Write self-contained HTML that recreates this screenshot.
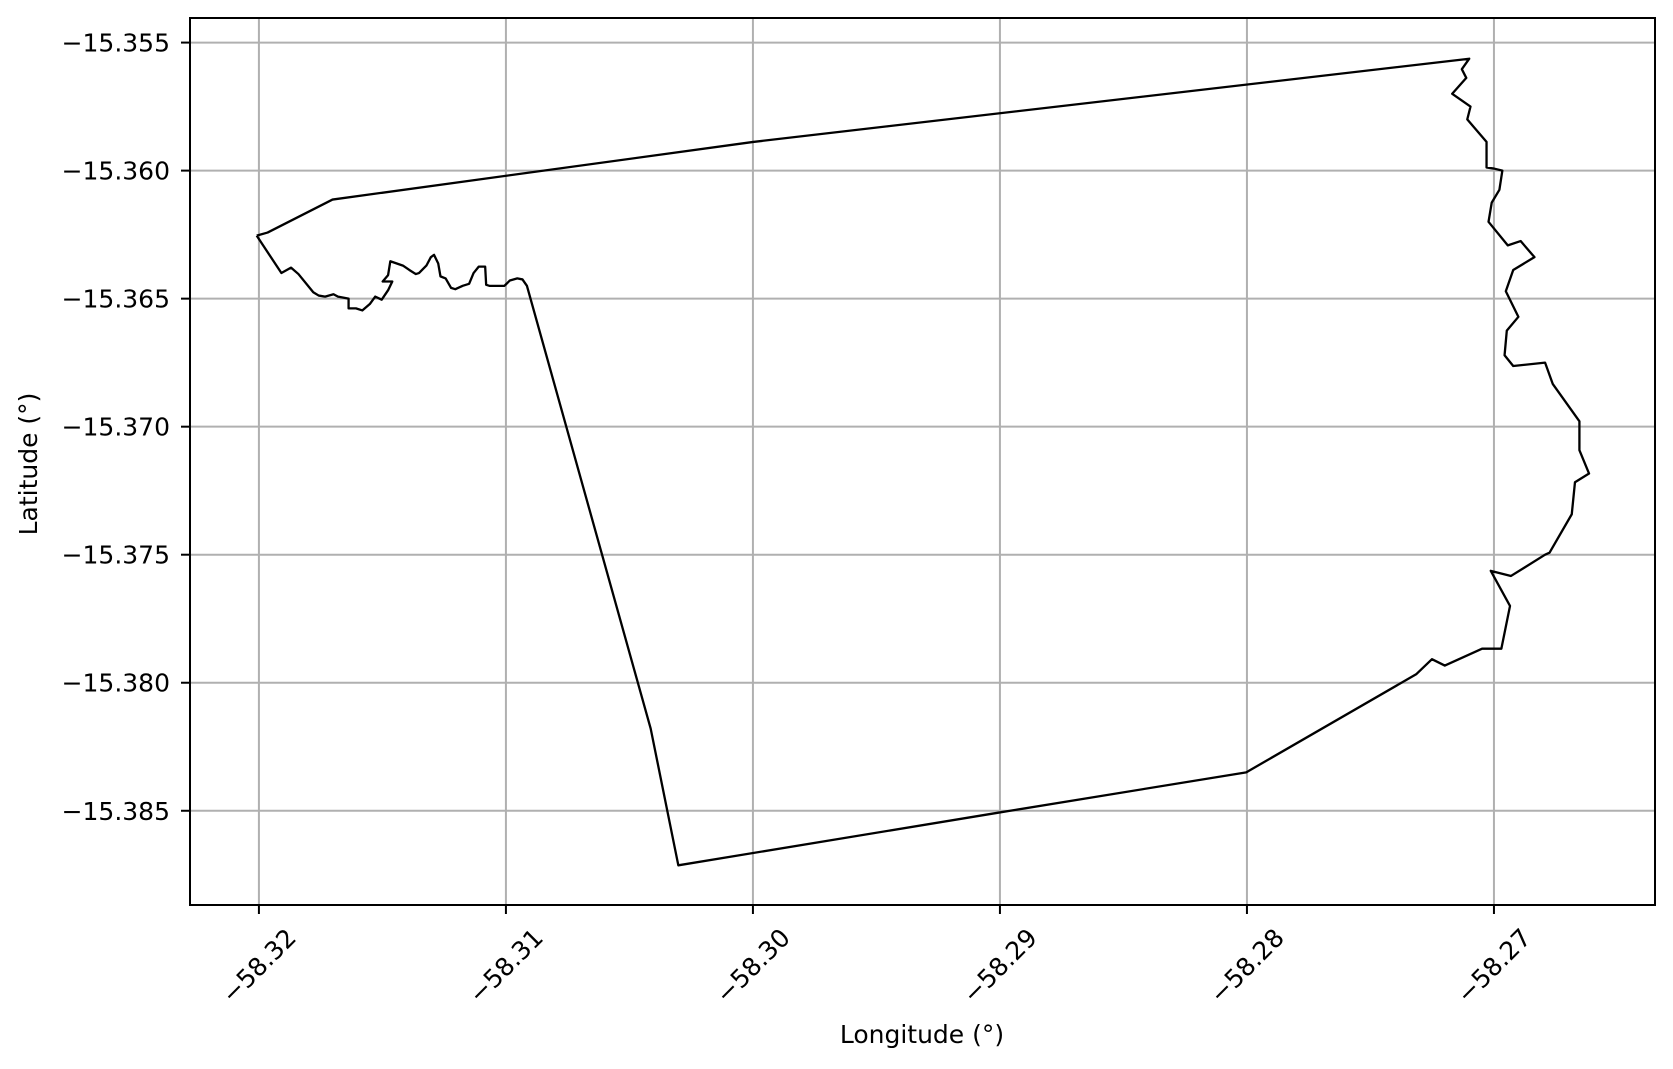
<!DOCTYPE html>
<html><head><meta charset="utf-8">
<style>
html,body{margin:0;padding:0;background:#fff;}
svg{display:block;font-family:"DejaVu Sans","Liberation Sans",sans-serif;}
</style></head>
<body>
<svg id="chart" width="1673" height="1069" viewBox="0 0 1673 1069" xmlns="http://www.w3.org/2000/svg"></svg>
<script>
const lonTicks = [-58.32, -58.31, -58.30, -58.29, -58.28, -58.27];
const lonTickLabels = ["\u221258.32","\u221258.31","\u221258.30","\u221258.29","\u221258.28","\u221258.27"];
const latTicks = [-15.355, -15.360, -15.365, -15.370, -15.375, -15.380, -15.385];
const latTickLabels = ["\u221215.355","\u221215.360","\u221215.365","\u221215.370","\u221215.375","\u221215.380","\u221215.385"];
const boundaryLon = [-58.32009,-58.31965,-58.31702,-58.29999,-58.27100,-58.27130,-58.27112,-58.27169,-58.27095,-58.27108,-58.27030,-58.27030,-58.27000,-58.26966,-58.26978,-58.27009,-58.27022,-58.26944,-58.26892,-58.26836,-58.26922,-58.26952,-58.26901,-58.26948,-58.26957,-58.26922,-58.26793,-58.26762,-58.26654,-58.26654,-58.26615,-58.26672,-58.26685,-58.26775,-58.26793,-58.26931,-58.27013,-58.26935,-58.26970,-58.27048,-58.27199,-58.27251,-58.27315,-58.28003,-58.29010,-58.30302,-58.30414,-58.30915,-58.30933,-58.30954,-58.30984,-58.31006,-58.31067,-58.31080,-58.31084,-58.31110,-58.31131,-58.31149,-58.31175,-58.31205,-58.31222,-58.31244,-58.31265,-58.31274,-58.31291,-58.31304,-58.31322,-58.31352,-58.31365,-58.31391,-58.31417,-58.31468,-58.31477,-58.31499,-58.31460,-58.31477,-58.31503,-58.31529,-58.31551,-58.31581,-58.31607,-58.31637,-58.31637,-58.31680,-58.31698,-58.31732,-58.31758,-58.31780,-58.31840,-58.31870,-58.31909,-58.32009];
const boundaryLat = [-15.36254,-15.36242,-15.36113,-15.35888,-15.35563,-15.35604,-15.35638,-15.35700,-15.35750,-15.35800,-15.35888,-15.35988,-15.35992,-15.36000,-15.36075,-15.36125,-15.36200,-15.36292,-15.36275,-15.36338,-15.36388,-15.36471,-15.36571,-15.36625,-15.36721,-15.36763,-15.36750,-15.36833,-15.36979,-15.37092,-15.37183,-15.37217,-15.37342,-15.37492,-15.37500,-15.37583,-15.37563,-15.37700,-15.37867,-15.37867,-15.37933,-15.37908,-15.37967,-15.38350,-15.38508,-15.38713,-15.38179,-15.36450,-15.36425,-15.36421,-15.36429,-15.36450,-15.36450,-15.36446,-15.36375,-15.36375,-15.36400,-15.36442,-15.36450,-15.36463,-15.36458,-15.36421,-15.36413,-15.36363,-15.36329,-15.36338,-15.36371,-15.36400,-15.36404,-15.36388,-15.36371,-15.36354,-15.36408,-15.36433,-15.36433,-15.36467,-15.36504,-15.36492,-15.36521,-15.36546,-15.36538,-15.36538,-15.36500,-15.36492,-15.36483,-15.36492,-15.36488,-15.36475,-15.36404,-15.36379,-15.36400,-15.36254];

const NS = "http://www.w3.org/2000/svg";
const svg = document.getElementById('chart');
const L = 190, R = 1655, T = 18, B = 905;
const xMin = -58.32279, xMax = -58.26348, yMax = -15.35404, yMin = -15.38868;
function xs(v){ return L + (v - xMin) / (xMax - xMin) * (R - L); }
function ys(v){ return T + (yMax - v) / (yMax - yMin) * (B - T); }
function mk(tag, attrs){ const e = document.createElementNS(NS, tag); for (const k in attrs) e.setAttribute(k, attrs[k]); svg.appendChild(e); return e; }

// grid
lonTicks.forEach((v, i) => {
  const g = mk('line', {x1: xs(v), x2: xs(v), y1: T, y2: B, stroke: '#b0b0b0', 'stroke-width': 2});
  
  
});
latTicks.forEach((v, i) => {
  const g = mk('line', {x1: L, x2: R, y1: ys(v), y2: ys(v), stroke: '#b0b0b0', 'stroke-width': 2});
  
  
});

// boundary polygon
let d = '';
boundaryLon.forEach((v, i) => { d += (i ? 'L' : 'M') + xs(v).toFixed(2) + ',' + ys(boundaryLat[i]).toFixed(2); });
const poly = mk('path', {d: d, fill: 'none', stroke: '#000', 'stroke-width': 2.3, 'stroke-linejoin': 'round'});



// axes frame
const frame = mk('rect', {x: L, y: T, width: R - L, height: B - T, fill: 'none', stroke: '#000', 'stroke-width': 2});



// x ticks
lonTicks.forEach((v, i) => {
  const x = xs(v);
  const t = mk('line', {x1: x, x2: x, y1: B, y2: B + 9, stroke: '#000', 'stroke-width': 2});
  
  
  const lb = mk('text', {x: 0, y: 0, 'font-size': 25, 'text-anchor': 'middle', 'dominant-baseline': 'central', fill: '#000', transform: 'translate(' + x + ',966) rotate(-45)'});
  lb.textContent = lonTickLabels[i];
  
  
});
// y ticks
latTicks.forEach((v, i) => {
  const y = ys(v);
  const t = mk('line', {x1: L - 9, x2: L, y1: y, y2: y, stroke: '#000', 'stroke-width': 2});
  
  
  const lb = mk('text', {x: 170, y: y + 9, 'font-size': 25, 'text-anchor': 'end', fill: '#000'});
  lb.textContent = latTickLabels[i];
  
  
});

const xt = mk('text', {x: 922, y: 1043, 'font-size': 25, 'text-anchor': 'middle', fill: '#000'});
xt.textContent = 'Longitude (°)';


const yt = mk('text', {x: 0, y: 0, 'font-size': 25, 'text-anchor': 'middle', fill: '#000', transform: 'translate(37,464) rotate(-90)'});
yt.textContent = 'Latitude (°)';


</script>
</body></html>
